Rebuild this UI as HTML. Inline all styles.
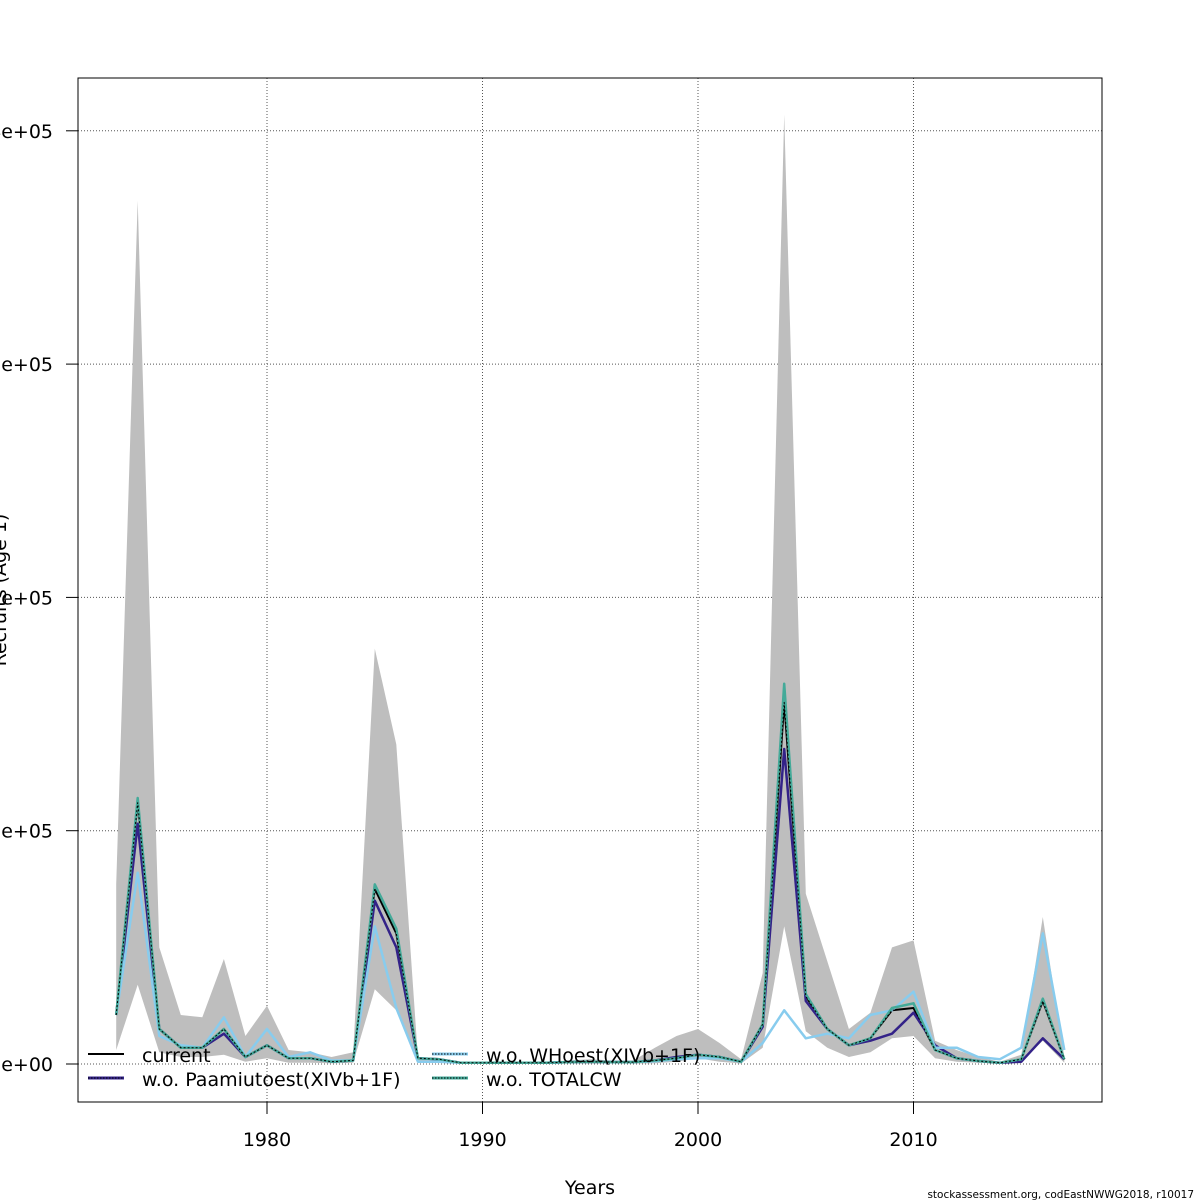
<!DOCTYPE html>
<html><head><meta charset="utf-8"><style>
html,body{margin:0;padding:0;background:#fff;}
svg{display:block;font-family:"DejaVu Sans","Liberation Sans",sans-serif;}
</style></head><body>
<svg id="chart" width="1200" height="1200" viewBox="0 0 1200 1200" xmlns="http://www.w3.org/2000/svg">
<rect width="1200" height="1200" fill="#fff"/>
<g id="grid"></g>
<g id="band"></g>
<g id="lines"></g>
<g id="axes"></g>
<rect x="78" y="78" width="1024" height="1024" fill="none" stroke="#000" stroke-width="1"/>
<text x="590" y="1194" text-anchor="middle" font-size="19">Years</text>
<text transform="translate(6,590) rotate(-90)" text-anchor="middle" font-size="19">Recruits (Age 1)</text>
<text x="1194" y="1198" text-anchor="end" font-size="10.5">stockassessment.org, codEastNWWG2018, r10017</text>
<g id="legend">
  <g>
    <line x1="88" y1="1054" x2="124" y2="1054" stroke="#000" stroke-width="2"/>
    <text x="142" y="1062" font-size="19">current</text>
  </g>
  <g>
    <line x1="88" y1="1078" x2="124" y2="1078" stroke="#332288" stroke-width="3"/>
    <line x1="88" y1="1078" x2="124" y2="1078" stroke="#000" stroke-width="1" stroke-dasharray="1.5,1.5"/>
    <text x="142" y="1086" font-size="19">w.o. Paamiutoest(XIVb+1F)</text>
  </g>
  <g>
    <line x1="432" y1="1054" x2="468" y2="1054" stroke="#88ccee" stroke-width="3"/>
    <line x1="432" y1="1054" x2="468" y2="1054" stroke="#000" stroke-width="1" stroke-dasharray="1.5,1.5"/>
    <text x="486" y="1062" font-size="19">w.o. WHoest(XIVb+1F)</text>
  </g>
  <g>
    <line x1="432" y1="1078" x2="468" y2="1078" stroke="#44aa99" stroke-width="3"/>
    <line x1="432" y1="1078" x2="468" y2="1078" stroke="#000" stroke-width="1" stroke-dasharray="1.5,1.5"/>
    <text x="486" y="1086" font-size="19">w.o. TOTALCW</text>
  </g>
</g>
</svg>
<script>
// values in thousands
const years = [1973,1974,1975,1976,1977,1978,1979,1980,1981,1982,1983,1984,1985,1986,1987,1988,1989,1990,1991,1992,1993,1994,1995,1996,1997,1998,1999,2000,2001,2002,2003,2004,2005,2006,2007,2008,2009,2010,2011,2012,2013,2014,2015,2016,2017];
const current = [21,112,15,7,7,15,3,8,2.5,2.5,1,1.5,75,56,2.5,2,0.5,0.5,0.5,0.5,0.5,0.8,1,0.8,0.8,1.5,2.5,4,3,1,17,155,29,15,8,11,23,24,6,2.5,1.3,0.5,2,27,2];
const paamiut = [21,103,15,7,7,13,3,8,2.5,2.5,1,1.5,70,50,2.5,2,0.5,0.5,0.5,0.5,0.5,0.8,1,0.8,0.8,1.5,3,4,3,1,16,135,27,15,8,10,13,22,8,2.5,1.3,0.5,1,11,2];
const whoest = [21,82,12,8,7,20,3,15,3,5,1.5,1.5,59,24,1,1,0.5,0.5,0.5,0.5,0.5,0.8,1,0.8,0.8,1.2,2,2.5,2.5,1,9,23,11,13,11,21,23,31,7,7,3,2,7,56,6];
const totalcw = [21,114,15,7,7,15,3,8,2.5,2.5,1,1.5,77,58,2.5,2,0.5,0.5,0.5,0.5,0.5,0.8,1,0.8,0.8,1.5,2.5,4,3,1,17,163,30,15,8,11,24,26,6,2.5,1.3,0.5,2,28,2];
const upper = [77,370,50,21,20,45,12,25,6,5,3,5,178,137,3,2,1,1,1,1,1,1.5,2,1.5,1.5,7,12,15,9,2,39,407,73,44,15,22,50,53,10,6,3,1,4,63,3];
const lower = [6,34,5,3,3,4,1,2.5,0.5,0.5,0.3,0.5,32,23,0.5,0.5,0.1,0.1,0.1,0.1,0.1,0.2,0.2,0.2,0.2,0.3,1,2.5,1,0.2,7,59,14,7,3,5,11,12,2.5,1,0.5,0.2,1,10,0.5];
const yTicks = [0,100,200,300,400];
const yTickLabels = ["0e+00","1e+05","2e+05","3e+05","4e+05"];
const xTicks = [1980,1990,2000,2010];

const NS = "http://www.w3.org/2000/svg";
function X(yr){ return 267 + (yr - 1980) * 21.55; }
function Y(v){ return 1064 - v * 2.333; }
function mk(tag, attrs, parent){ const e = document.createElementNS(NS, tag); for (const k in attrs) e.setAttribute(k, attrs[k]); parent.appendChild(e); return e; }

const grid = document.getElementById('grid');
const axes = document.getElementById('axes');
xTicks.forEach(t => {
  const g = mk('line', {x1:X(t), x2:X(t), y1:78, y2:1102, stroke:'#555', 'stroke-width':1, 'stroke-dasharray':'1,2'}, grid);
  
  
  const tk = mk('line', {x1:X(t), x2:X(t), y1:1102, y2:1114, stroke:'#000'}, axes);
  
  
  const lb = mk('text', {x:X(t), y:1146, 'text-anchor':'middle', 'font-size':19}, axes);
  lb.textContent = t;
  
  
});
yTicks.forEach((t, i) => {
  const g = mk('line', {x1:78, x2:1102, y1:Y(t), y2:Y(t), stroke:'#555', 'stroke-width':1, 'stroke-dasharray':'1,2'}, grid);
  
  
  const tk = mk('line', {x1:66, x2:78, y1:Y(t), y2:Y(t), stroke:'#000'}, axes);
  
  
  const lb = mk('text', {x:53, y:Y(t) + 7, 'text-anchor':'end', 'font-size':19}, axes);
  lb.textContent = yTickLabels[i];
  
  
});

// band
let d = '';
years.forEach((yr, i) => { d += (i ? 'L' : 'M') + X(yr).toFixed(1) + ',' + Y(upper[i]).toFixed(1); });
for (let i = years.length - 1; i >= 0; i--) d += 'L' + X(years[i]).toFixed(1) + ',' + Y(lower[i]).toFixed(1);
const band = mk('path', {d: d + 'Z', fill:'#bebebe', stroke:'none'}, document.getElementById('band'));



function line(vals, color, w, name, dash){
  const pts = years.map((yr, i) => X(yr).toFixed(1) + ',' + Y(vals[i]).toFixed(1)).join(' ');
  const attrs = {points:pts, fill:'none', stroke:color, 'stroke-width':w, 'stroke-linejoin':'round'};
  if (dash) attrs['stroke-dasharray'] = dash;
  const p = mk('polyline', attrs, document.getElementById('lines'));
  
  
}
line(current, '#000', 2, 'line-current');
line(paamiut, '#332288', 2.5, 'line-wo-paamiut');
line(whoest, '#88ccee', 2.5, 'line-wo-whoest');
line(totalcw, '#44aa99', 2.5, 'line-wo-totalcw');
line(current, '#000', 1, 'line-current-dotted', '2,2');
</script>
</body></html>
